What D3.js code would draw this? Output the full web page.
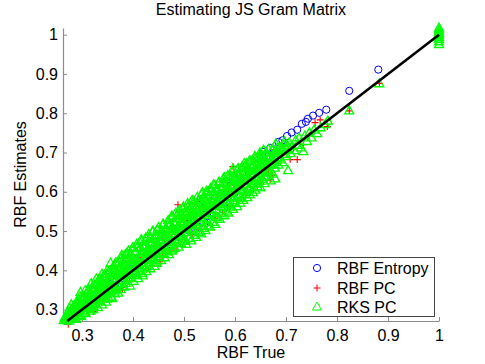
<!DOCTYPE html>
<html>
<head>
<meta charset="utf-8">
<script src="https://cdn.jsdelivr.net/npm/d3@7"></script>
<style>
  body { margin: 0; background: #fff; }
  svg { font-family: "Liberation Sans", Arial, sans-serif; }
</style>
</head>
<body>
<div id="chart"></div>
<script>
// chart size
var svgWidth = 485;
var svgHeight = 364;

// plot box in pixels
var plot = { left: 63, right: 439, top: 28, bottom: 321 };

// axis ranges and ticks
var xDomain = [0.2627, 1];
var yDomain = [0.271, 1.017];
var xTicks = [0.3, 0.4, 0.5, 0.6, 0.7, 0.8, 0.9, 1];
var yTicks = [0.3, 0.4, 0.5, 0.6, 0.7, 0.8, 0.9, 1];

var seriesNames = ["RBF Entropy", "RBF PC", "RKS PC"];

// y = x reference line
var lineX = [0.271, 1];

// RBF Entropy (blue circles) [true, estimate]
var entropyPts = [
  [0.268,0.271],[0.276,0.280],[0.284,0.287],[0.292,0.301],[0.299,0.312],[0.306,0.304],[0.314,0.320],
  [0.323,0.334],[0.331,0.328],[0.339,0.352],[0.348,0.345],[0.357,0.366],[0.365,0.358],[0.374,0.387],
  [0.383,0.379],[0.392,0.405],[0.401,0.396],[0.410,0.424],[0.419,0.411],[0.428,0.445],[0.437,0.429],
  [0.446,0.462],[0.455,0.447],[0.464,0.482],[0.473,0.466],[0.482,0.501],[0.491,0.484],[0.500,0.519],
  [0.509,0.501],[0.518,0.540],[0.528,0.511],[0.537,0.558],[0.546,0.538],[0.555,0.577],[0.564,0.553],
  [0.573,0.597],[0.582,0.574],[0.586,0.587],[0.591,0.616],[0.600,0.598],[0.609,0.634],[0.618,0.615],
  [0.627,0.652],[0.636,0.644],[0.645,0.672],[0.655,0.702],[0.661,0.688],[0.669,0.712],[0.676,0.708],
  [0.685,0.727],[0.693,0.731],[0.702,0.742],[0.711,0.751],[0.722,0.758],[0.731,0.773],[0.739,0.778],
  [0.743,0.786],[0.753,0.794],[0.765,0.801],[0.779,0.809],[0.824,0.857],[0.881,0.911],[1,1.000]
];

// RBF PC (red plus)
var rbfPcPts = [
  [0.273,0.263],[0.283,0.291],[0.291,0.283],[0.296,0.318],[0.302,0.309],[0.309,0.296],[0.318,0.331],
  [0.322,0.295],[0.327,0.318],[0.336,0.349],[0.341,0.333],[0.345,0.330],[0.349,0.325],[0.353,0.362],
  [0.361,0.345],[0.368,0.383],[0.373,0.350],[0.378,0.356],[0.379,0.351],[0.386,0.398],[0.393,0.371],
  [0.399,0.419],[0.408,0.407],[0.412,0.389],[0.418,0.432],[0.426,0.403],[0.433,0.451],[0.441,0.420],
  [0.447,0.463],[0.453,0.422],[0.458,0.436],[0.463,0.479],[0.471,0.450],[0.478,0.497],[0.479,0.458],
  [0.486,0.461],[0.488,0.567],[0.493,0.506],[0.501,0.478],[0.508,0.527],[0.516,0.491],[0.523,0.540],
  [0.526,0.575],[0.531,0.505],[0.538,0.556],[0.546,0.519],[0.553,0.571],[0.561,0.533],[0.568,0.586],
  [0.576,0.548],[0.583,0.601],[0.591,0.566],[0.596,0.664],[0.598,0.617],[0.606,0.577],[0.613,0.631],
  [0.621,0.592],[0.628,0.646],[0.636,0.607],[0.643,0.658],[0.651,0.622],[0.658,0.671],[0.659,0.656],
  [0.666,0.648],[0.669,0.631],[0.673,0.643],[0.673,0.700],[0.681,0.676],[0.688,0.694],[0.692,0.694],
  [0.698,0.703],[0.708,0.682],[0.715,0.711],[0.722,0.682],[0.734,0.720],[0.745,0.742],[0.757,0.776],
  [0.767,0.783],[0.781,0.766],[0.824,0.806],[0.883,0.876],[1,1.000]
];

// RKS PC (green triangles)
var rksPcPts = [
  [0.264,0.272],[0.266,0.279],[0.268,0.274],[0.270,0.286],[0.272,0.281],[0.274,0.292],[0.275,0.276],
  [0.277,0.290],[0.278,0.283],[0.280,0.299],[0.281,0.276],[0.283,0.307],[0.284,0.288],[0.285,0.296],
  [0.286,0.281],[0.287,0.312],[0.289,0.300],[0.290,0.293],[0.291,0.318],[0.293,0.286],[0.294,0.306],[0.295,0.322],
  [0.296,0.299],[0.297,0.344],[0.298,0.284],[0.300,0.313],[0.301,0.326],[0.302,0.306],[0.304,0.294],[0.305,0.331],
  [0.306,0.318],[0.307,0.290],[0.309,0.340],[0.310,0.325],[0.311,0.303],[0.312,0.349],[0.314,0.331],[0.315,0.313],
  [0.316,0.339],[0.317,0.296],[0.319,0.355],[0.320,0.322],[0.321,0.346],[0.322,0.308],[0.324,0.333],[0.325,0.362],
  [0.326,0.317],[0.327,0.344],[0.329,0.330],[0.330,0.367],[0.331,0.305],[0.332,0.353],[0.334,0.339],[0.335,0.322],[0.333,0.376],
  [0.336,0.358],[0.337,0.345],[0.339,0.312],[0.340,0.372],[0.341,0.330],[0.342,0.384],[0.344,0.352],[0.345,0.338],
  [0.346,0.366],[0.347,0.319],[0.349,0.391],[0.350,0.344],[0.351,0.377],[0.352,0.330],[0.354,0.359],[0.355,0.400],
  [0.356,0.347],[0.357,0.372],[0.359,0.328],[0.360,0.386],[0.361,0.361],[0.362,0.411],[0.364,0.340],[0.365,0.395],
  [0.366,0.378],[0.367,0.355],[0.369,0.420],[0.370,0.391],[0.371,0.342],[0.372,0.404],[0.374,0.366],[0.375,0.384],
  [0.376,0.351],[0.377,0.430],[0.379,0.398],[0.380,0.373],[0.381,0.414],[0.382,0.358],[0.384,0.389],[0.385,0.440],
  [0.386,0.367],[0.387,0.408],[0.389,0.425],[0.390,0.381],[0.391,0.449],[0.392,0.395],[0.394,0.360],[0.395,0.418],
  [0.396,0.437],[0.397,0.386],[0.399,0.404],[0.400,0.458],[0.401,0.372],[0.402,0.426],[0.404,0.413],[0.405,0.446],
  [0.406,0.392],[0.407,0.466],[0.409,0.421],[0.410,0.379],[0.411,0.437],[0.412,0.405],[0.414,0.455],[0.415,0.398],
  [0.416,0.430],[0.417,0.474],[0.419,0.386],[0.420,0.446],[0.421,0.412],[0.422,0.463],[0.424,0.425],[0.425,0.483],
  [0.426,0.397],[0.427,0.440],[0.429,0.456],[0.430,0.418],[0.431,0.491],[0.432,0.471],[0.434,0.404],[0.435,0.433],
  [0.436,0.465],[0.437,0.449],[0.439,0.500],[0.440,0.426],[0.441,0.480],[0.442,0.410],[0.444,0.458],[0.445,0.441],
  [0.446,0.489],[0.447,0.418],[0.449,0.467],[0.450,0.509],[0.451,0.434],[0.452,0.476],[0.454,0.451],[0.455,0.425],
  [0.456,0.497],[0.457,0.460],[0.459,0.518],[0.460,0.443],[0.461,0.484],[0.462,0.432],[0.464,0.471],[0.465,0.506],
  [0.466,0.452],[0.467,0.493],[0.469,0.527],[0.470,0.440],[0.471,0.479],[0.472,0.514],[0.474,0.462],[0.475,0.500],
  [0.476,0.449],[0.477,0.536],[0.479,0.487],[0.480,0.470],[0.481,0.521],[0.482,0.456],[0.484,0.546],[0.485,0.505],
  [0.486,0.478],[0.487,0.531],[0.489,0.459],[0.490,0.514],[0.491,0.495],[0.492,0.554],[0.494,0.468],[0.495,0.540],
  [0.496,0.487],[0.497,0.523],[0.499,0.562],[0.500,0.474],[0.501,0.504],[0.502,0.548],[0.504,0.466],[0.505,0.531],
  [0.506,0.496],[0.507,0.570],[0.509,0.514],[0.510,0.481],[0.511,0.556],[0.512,0.539],[0.514,0.475],[0.515,0.523],
  [0.516,0.578],[0.517,0.505],[0.519,0.547],[0.520,0.489],[0.521,0.564],[0.522,0.531],[0.524,0.484],[0.525,0.515],
  [0.526,0.586],[0.527,0.554],[0.529,0.497],[0.530,0.540],[0.531,0.572],[0.532,0.523],[0.534,0.493],[0.535,0.594],
  [0.536,0.531],[0.537,0.562],[0.539,0.506],[0.540,0.580],[0.541,0.548],[0.542,0.501],[0.544,0.601],[0.545,0.540],
  [0.546,0.571],[0.547,0.513],[0.549,0.589],[0.550,0.556],[0.551,0.510],[0.552,0.609],[0.554,0.546],[0.555,0.578],
  [0.556,0.522],[0.557,0.597],[0.559,0.563],[0.560,0.616],[0.561,0.517],[0.562,0.584],[0.564,0.554],[0.565,0.534],
  [0.566,0.605],[0.567,0.571],[0.569,0.625],[0.570,0.530],[0.571,0.591],[0.572,0.562],[0.574,0.544],[0.575,0.613],
  [0.576,0.580],[0.577,0.633],[0.579,0.539],[0.580,0.598],[0.581,0.568],[0.582,0.620],[0.584,0.551],[0.585,0.588],
  [0.586,0.641],[0.587,0.546],[0.589,0.606],[0.590,0.577],[0.591,0.628],[0.592,0.561],[0.594,0.596],[0.595,0.650],
  [0.596,0.555],[0.597,0.615],[0.599,0.585],[0.600,0.636],[0.601,0.570],[0.602,0.604],[0.604,0.562],[0.605,0.656],
  [0.606,0.623],[0.607,0.592],[0.609,0.644],[0.610,0.571],[0.611,0.612],[0.612,0.584],[0.614,0.663],[0.615,0.603],
  [0.616,0.578],[0.617,0.630],[0.619,0.651],[0.620,0.593],[0.621,0.619],[0.622,0.671],[0.624,0.585],[0.625,0.640],
  [0.626,0.607],[0.627,0.659],[0.629,0.592],[0.630,0.627],[0.631,0.678],[0.632,0.612],[0.634,0.646],[0.635,0.598],
  [0.636,0.666],[0.637,0.620],[0.639,0.684],[0.640,0.604],[0.641,0.636],[0.642,0.655],[0.644,0.613],[0.645,0.689],
  [0.646,0.643],[0.647,0.626],[0.649,0.671],[0.650,0.610],[0.651,0.656],[0.652,0.694],[0.654,0.632],[0.655,0.648],
  [0.656,0.677],[0.658,0.621],[0.660,0.661],[0.661,0.700],[0.663,0.640],[0.664,0.684],
  [0.666,0.652],[0.668,0.690],[0.670,0.628],[0.671,0.670],[0.673,0.706],[0.674,0.645],
  [0.676,0.679],[0.678,0.660],[0.679,0.633],[0.681,0.697],[0.683,0.712],[0.685,0.668],[0.688,0.686],
  [0.691,0.703],[0.693,0.674],[0.696,0.719],[0.699,0.690],[0.702,0.708],[0.704,0.654],[0.706,0.724],
  [0.709,0.697],[0.712,0.715],[0.716,0.705],[0.719,0.731],
  [0.722,0.718],[0.726,0.737],[0.729,0.712],[0.734,0.702],[0.737,0.742],[0.741,0.728],[0.746,0.750],
  [0.750,0.737],[0.755,0.757],[0.761,0.748],[0.768,0.763],[0.777,0.771],[0.782,0.780],
  [0.824,0.806],[0.883,0.875],
  [1,0.975],[1,0.982],[1,0.988],[1,0.993],[1,0.998],[1,1.003],[1,1.007],[1,1.012],[1,1.017],
  // second pass over the dense band
  [0.272,0.277],[0.273,0.292],[0.275,0.271],[0.276,0.304],[0.278,0.289],[0.279,0.313],
  [0.282,0.296],[0.283,0.279],[0.285,0.308],[0.286,0.294],[0.288,0.275],[0.289,0.319],
  [0.292,0.294],[0.293,0.319],[0.295,0.305],[0.296,0.333],[0.298,0.282],[0.299,0.316],
  [0.302,0.331],[0.303,0.311],[0.305,0.291],[0.306,0.348],[0.308,0.326],[0.309,0.307],
  [0.312,0.324],[0.313,0.351],[0.315,0.307],[0.316,0.342],[0.318,0.366],[0.319,0.324],
  [0.322,0.300],[0.323,0.347],[0.325,0.362],[0.326,0.327],[0.328,0.378],[0.329,0.345],
  [0.332,0.339],[0.333,0.361],[0.335,0.322],[0.336,0.377],[0.338,0.355],[0.339,0.390],
  [0.342,0.366],[0.343,0.337],[0.345,0.384],[0.346,0.359],[0.348,0.327],[0.349,0.399],
  [0.352,0.355],[0.353,0.397],[0.355,0.372],[0.356,0.418],[0.358,0.332],[0.359,0.387],
  [0.362,0.398],[0.363,0.373],[0.365,0.348],[0.366,0.419],[0.368,0.390],[0.369,0.367],
  [0.372,0.387],[0.373,0.421],[0.375,0.365],[0.376,0.409],[0.378,0.438],[0.379,0.385],
  [0.382,0.358],[0.383,0.410],[0.385,0.426],[0.386,0.387],[0.388,0.443],[0.389,0.407],
  [0.392,0.400],[0.393,0.424],[0.395,0.381],[0.396,0.442],[0.398,0.417],[0.399,0.456],
  [0.402,0.426],[0.403,0.397],[0.405,0.444],[0.406,0.419],[0.408,0.387],[0.409,0.459],
  [0.412,0.415],[0.413,0.457],[0.415,0.432],[0.416,0.478],[0.418,0.392],[0.419,0.447],
  [0.422,0.458],[0.423,0.433],[0.425,0.408],[0.426,0.479],[0.428,0.450],[0.429,0.427],
  [0.432,0.447],[0.433,0.481],[0.435,0.425],[0.436,0.469],[0.438,0.498],[0.439,0.445],
  [0.442,0.418],[0.443,0.470],[0.445,0.486],[0.446,0.447],[0.448,0.503],[0.449,0.467],
  [0.452,0.460],[0.453,0.484],[0.455,0.441],[0.456,0.502],[0.458,0.477],[0.459,0.516],
  [0.462,0.486],[0.463,0.457],[0.465,0.504],[0.466,0.479],[0.468,0.447],[0.469,0.519],
  [0.472,0.475],[0.473,0.517],[0.475,0.492],[0.476,0.538],[0.478,0.452],[0.479,0.507],
  [0.482,0.518],[0.483,0.493],[0.485,0.468],[0.486,0.539],[0.488,0.510],[0.489,0.487],
  [0.492,0.507],[0.493,0.541],[0.495,0.485],[0.496,0.529],[0.498,0.558],[0.499,0.505],
  [0.502,0.478],[0.503,0.530],[0.505,0.546],[0.506,0.507],[0.508,0.563],[0.509,0.527],
  [0.512,0.520],[0.513,0.544],[0.515,0.501],[0.516,0.562],[0.518,0.537],[0.519,0.576],
  [0.522,0.546],[0.523,0.517],[0.525,0.564],[0.526,0.539],[0.528,0.507],[0.529,0.579],
  [0.532,0.535],[0.533,0.577],[0.535,0.552],[0.536,0.598],[0.538,0.512],[0.539,0.567],
  [0.542,0.578],[0.543,0.553],[0.545,0.528],[0.546,0.599],[0.548,0.570],[0.549,0.547],
  [0.552,0.567],[0.553,0.601],[0.555,0.545],[0.556,0.589],[0.558,0.618],[0.559,0.565],
  [0.562,0.538],[0.563,0.590],[0.565,0.606],[0.566,0.567],[0.568,0.623],[0.569,0.587],
  [0.572,0.580],[0.573,0.604],[0.575,0.561],[0.576,0.622],[0.578,0.597],[0.579,0.636],
  [0.582,0.606],[0.583,0.577],[0.585,0.624],[0.586,0.599],[0.588,0.567],[0.589,0.639],
  [0.592,0.595],[0.593,0.637],[0.595,0.612],[0.596,0.658],[0.598,0.572],[0.599,0.627],
  [0.602,0.638],[0.603,0.613],[0.605,0.588],[0.606,0.659],[0.608,0.630],[0.609,0.607],
  [0.612,0.627],[0.613,0.661],[0.615,0.605],[0.616,0.649],[0.618,0.672],[0.619,0.625],
  [0.622,0.600],[0.623,0.647],[0.625,0.662],[0.626,0.627],[0.628,0.678],[0.629,0.645],
  [0.632,0.639],[0.633,0.661],[0.635,0.622],[0.636,0.677],[0.638,0.655],[0.639,0.690],
  [0.642,0.666],[0.643,0.637],[0.645,0.684],[0.646,0.659],[0.648,0.627],[0.649,0.699],
  [0.652,0.654],[0.653,0.688],[0.655,0.669],[0.656,0.706],[0.658,0.637],[0.659,0.681],
  [0.662,0.691],[0.663,0.671],[0.665,0.651],[0.666,0.708],[0.668,0.686],[0.669,0.667],
  [0.672,0.682],[0.674,0.708],[0.676,0.669],[0.678,0.701],[0.680,0.722],[0.682,0.686],
  [0.685,0.697],[0.688,0.712],[0.690,0.681],[0.694,0.706],[0.697,0.728],[0.700,0.695],[0.703,0.717]
];

var svg = d3.select("#chart")
  .append("svg")
  .attr("width", svgWidth)
  .attr("height", svgHeight);

var xScale = d3.scaleLinear().domain(xDomain).range([plot.left, plot.right]);
var yScale = d3.scaleLinear().domain(yDomain).range([plot.bottom, plot.top]);

var axisColor = "#8c8c8c";
var fmt = d3.format("~g");

// axes (MATLAB style: ticks pointing inward)
var xAxis = svg.append("g")
  .attr("transform", `translate(0, ${plot.bottom})`)
  .call(d3.axisBottom(xScale).tickValues(xTicks).tickFormat(fmt)
    .tickSizeInner(-4).tickSizeOuter(0).tickPadding(9));

var yAxis = svg.append("g")
  .attr("transform", `translate(${plot.left}, 0)`)
  .call(d3.axisLeft(yScale).tickValues(yTicks).tickFormat(fmt)
    .tickSizeInner(-4).tickSizeOuter(0).tickPadding(5));

[xAxis, yAxis].forEach(function (g) {
  g.select(".domain").attr("stroke", axisColor).attr("stroke-width", 1.2);
  g.selectAll(".tick line").attr("stroke", axisColor);
  g.selectAll(".tick text")
    .attr("fill", "#000")
    .style("font-size", "16px")
    .style("font-family", "'Liberation Sans', Arial, sans-serif");
});

// markers
var trianglePath = "M0,-5L4.5,3L-4.5,3Z";
var plusPath = "M-3.5,0H3.5M0,-3.5V3.5";

var points = svg.append("g");

points.append("g").selectAll("circle")
  .data(entropyPts)
  .enter()
  .append("circle")
  .attr("cx", d => xScale(d[0]))
  .attr("cy", d => yScale(d[1]))
  .attr("r", 3.6)
  .attr("fill", "none")
  .attr("stroke", "#0000ff")
  .attr("stroke-width", 1);

points.append("g").selectAll("path")
  .data(rbfPcPts)
  .enter()
  .append("path")
  .attr("d", plusPath)
  .attr("transform", d => `translate(${xScale(d[0])}, ${yScale(d[1])})`)
  .attr("fill", "none")
  .attr("stroke", "#ff0000")
  .attr("stroke-width", 1.1);

points.append("g").selectAll("path")
  .data(rksPcPts)
  .enter()
  .append("path")
  .attr("d", trianglePath)
  .attr("transform", d => `translate(${xScale(d[0])}, ${yScale(d[1])})`)
  .attr("fill", "none")
  .attr("stroke", "#00ff00")
  .attr("stroke-width", 1.3);

// y = x line
svg.append("line")
  .attr("x1", xScale(lineX[0]))
  .attr("y1", yScale(lineX[0]))
  .attr("x2", xScale(lineX[1]))
  .attr("y2", yScale(lineX[1]))
  .attr("stroke", "#000")
  .attr("stroke-width", 2.6);

// titles
svg.append("text")
  .attr("x", (plot.left + plot.right) / 2)
  .attr("y", 15)
  .attr("text-anchor", "middle")
  .style("font-size", "16px")
  .text("Estimating JS Gram Matrix");

svg.append("text")
  .attr("x", (plot.left + plot.right) / 2)
  .attr("y", 358)
  .attr("text-anchor", "middle")
  .style("font-size", "16px")
  .text("RBF True");

svg.append("text")
  .attr("transform", `translate(26, ${(plot.top + plot.bottom) / 2}) rotate(-90)`)
  .attr("text-anchor", "middle")
  .style("font-size", "16px")
  .text("RBF Estimates");

// legend
var legend = svg.append("g");
legend.append("rect")
  .attr("x", 293.5)
  .attr("y", 257.5)
  .attr("width", 141)
  .attr("height", 59)
  .attr("fill", "#fff")
  .attr("stroke", "#444")
  .attr("stroke-width", 1);

var legendY = [268, 288, 307];
var mx = 317;

legend.append("circle")
  .attr("cx", mx).attr("cy", legendY[0]).attr("r", 3.6)
  .attr("fill", "none").attr("stroke", "#0000ff");
legend.append("path")
  .attr("d", plusPath)
  .attr("transform", `translate(${mx}, ${legendY[1]})`)
  .attr("fill", "none").attr("stroke", "#ff0000");
legend.append("path")
  .attr("d", trianglePath)
  .attr("transform", `translate(${mx}, ${legendY[2]})`)
  .attr("fill", "none").attr("stroke", "#00ff00");

legend.selectAll("text.leg")
  .data(seriesNames)
  .enter()
  .append("text")
  .attr("class", "leg")
  .attr("x", 337)
  .attr("y", (d, i) => legendY[i] + 6)
  .style("font-size", "16px")
  .text(d => d);
</script>
</body>
</html>
